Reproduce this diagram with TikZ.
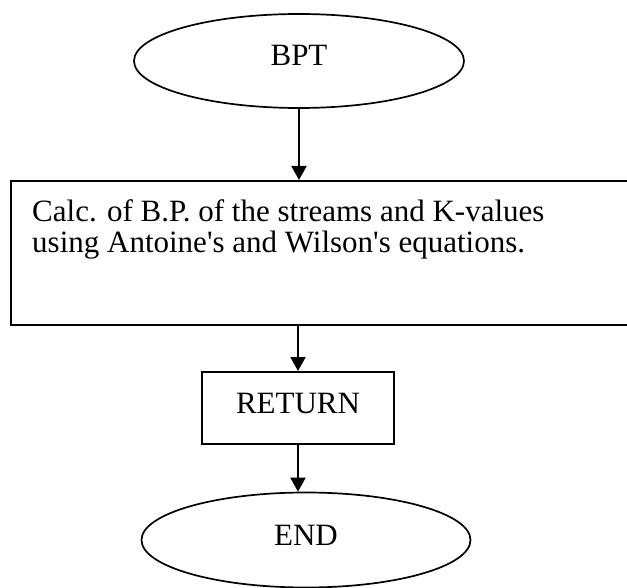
\documentclass[tikz,border=0pt]{standalone}
\usepackage{fontspec}
\setmainfont{Liberation Serif}
\usetikzlibrary{shapes.geometric, arrows.meta}

\begin{document}
\begin{tikzpicture}[
    x=1pt, y=-1pt,
    font=\fontsize{31}{31}\selectfont,
    term/.style={ellipse, draw, line width=1.7pt, inner sep=0pt,
                 text height=21pt, text depth=11pt},
    procbox/.style={rectangle, draw, line width=2pt, inner sep=0pt},
    flow/.style={line width=2pt, -{Triangle[width=15pt, length=14pt]}}
]

% ---------- page ----------
\useasboundingbox (0,0) rectangle (627,588);

% ---------- start ----------
\node[term, minimum width=330pt, minimum height=94pt] (bpt) at (299,61) {BPT};

% ---------- calculation block, open at the right edge ----------
\node[procbox, minimum width=650pt, minimum height=144pt, anchor=north west] (calc) at (10,180) {};
% base of this node is the baseline of its last line
\node[anchor=base west, align=left, inner sep=0pt] (calctxt) at (32,253)
  {Calc. of B.P. of the streams and K-values\\
   using Antoine\textquotesingle s and Wilson\textquotesingle s equations.};

% ---------- return and end ----------
\node[procbox, text height=21pt, text depth=11pt,
      minimum width=192pt, minimum height=72pt] (ret) at (298,408) {RETURN};
\node[term, minimum width=329pt, minimum height=95pt] (finish) at (306,540) {END};

% ---------- arrows ----------
\draw[flow] (bpt.south) -- (bpt.south |- calc.north);
\draw[flow] (ret.north |- calc.south) -- (ret.north);
\draw[flow] (ret.south) -- (ret.south |- finish.north);

\end{tikzpicture}
\end{document}
